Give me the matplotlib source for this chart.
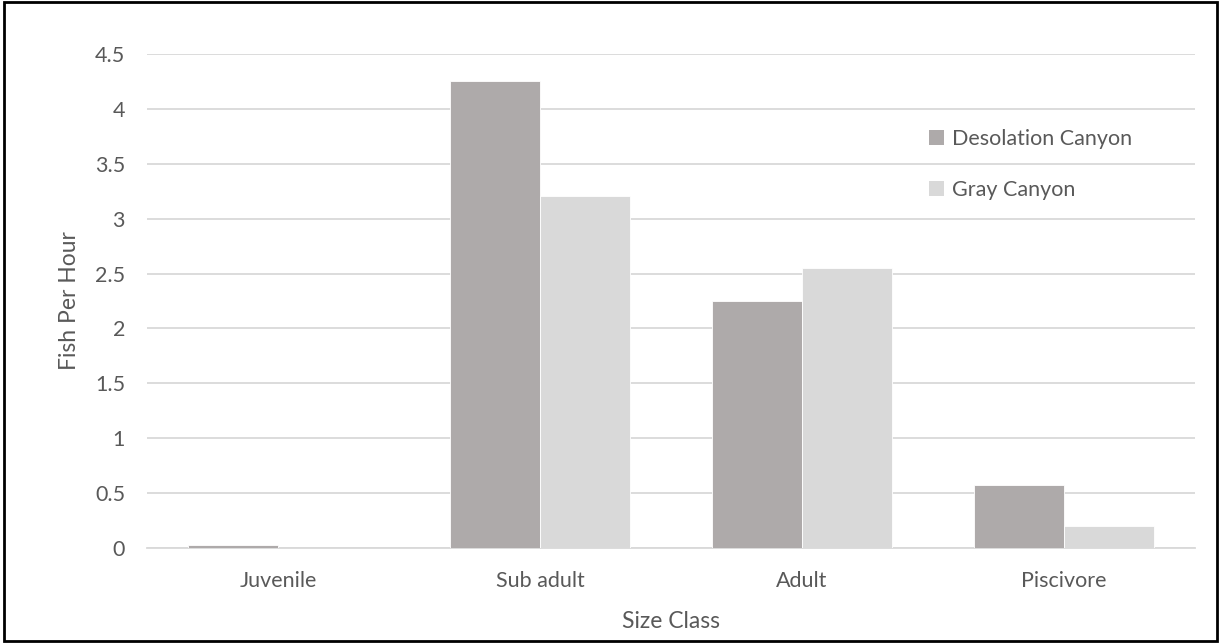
import numpy as np
import matplotlib.pyplot as plt
from matplotlib.patches import Patch, Rectangle

# fish catch rates by size class for the two canyon reaches
size_classes = ["Juvenile", "Sub adult", "Adult", "Piscivore"]
desolation = [0.025, 4.26, 2.25, 0.57]
gray = [0.0, 3.21, 2.55, 0.20]
series_names = ["Desolation Canyon", "Gray Canyon"]

dark = "#AEAAAA"
light = "#D9D9D9"
text_col = "#595959"

plt.rcParams['font.family'] = ['Lato', 'DejaVu Sans']

fig = plt.figure(figsize=(12.21, 6.43), dpi=100)
ax = fig.add_axes([0.1206, 0.1485, 0.8581, 0.767])

x = np.arange(len(size_classes))
w = 0.343
ax.bar(x - w / 2, desolation, w, color=dark, edgecolor="white", linewidth=0.6, zorder=3)
ax.bar(x + w / 2, gray, w, color=light, edgecolor="white", linewidth=0.6, zorder=3)

ax.set_xlim(-0.5, 3.5)
ax.set_ylim(0, 4.5)
ax.set_yticks(np.arange(0, 4.51, 0.5))
ax.set_yticklabels(["0", "0.5", "1", "1.5", "2", "2.5", "3", "3.5", "4", "4.5"])
ax.set_xticks(x)
ax.set_xticklabels(size_classes)
ax.yaxis.grid(True, color="#D9D9D9", linewidth=1.3, zorder=0)
ax.set_axisbelow(True)
for s in ["top", "right", "left"]:
    ax.spines[s].set_visible(False)
ax.spines["bottom"].set_color("#D9D9D9")
ax.spines["bottom"].set_linewidth(1.3)
ax.tick_params(length=0, labelsize=15.5, colors=text_col)
ax.tick_params(axis="y", pad=16)
ax.tick_params(axis="x", pad=17)

ax.set_xlabel("Size Class", fontsize=16.5, color=text_col, labelpad=14)
ax.set_ylabel("Fish Per Hour", fontsize=16.5, color=text_col, labelpad=11)

handles = [Patch(facecolor=dark), Patch(facecolor=light)]
fig.legend(handles, series_names, loc="upper left", bbox_to_anchor=(0.745, 0.83),
           frameon=False, fontsize=15.5, labelcolor=text_col,
           handlelength=0.7, handleheight=0.7, handletextpad=0.35, labelspacing=1.45)

# outer frame around the whole chart
fig.patches.append(Rectangle((0.003, 0.003), 0.994, 0.994, transform=fig.transFigure,
                             fill=False, edgecolor="black", linewidth=2))

fig.savefig("out.png", dpi=100)
